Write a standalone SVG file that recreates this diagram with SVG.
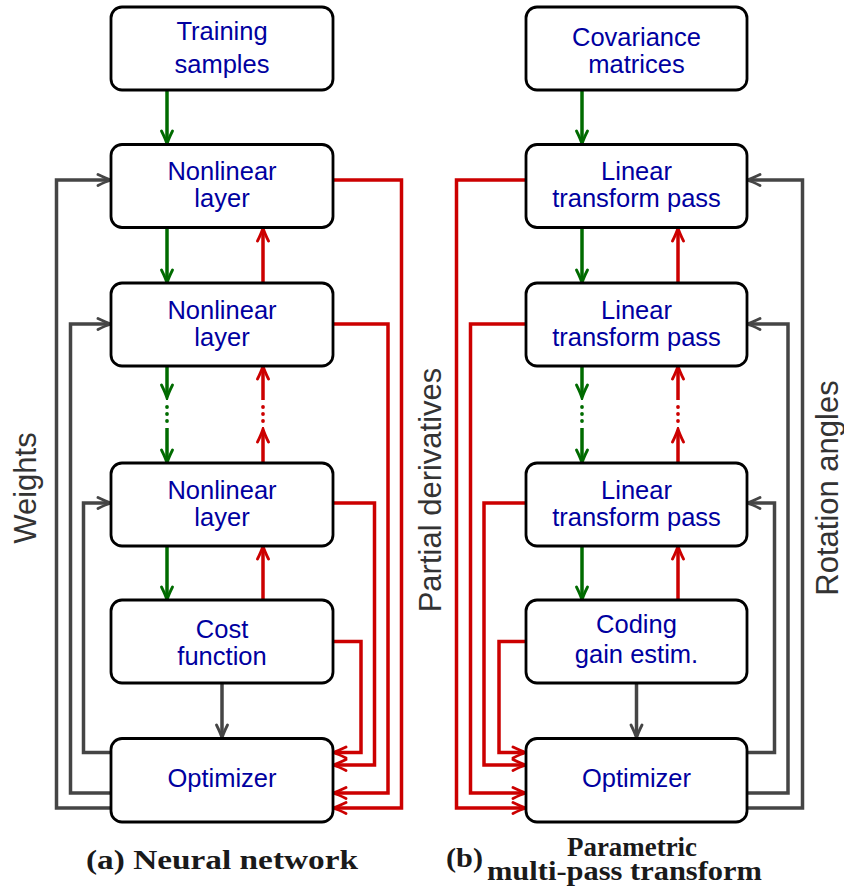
<svg xmlns="http://www.w3.org/2000/svg" width="844" height="892" viewBox="0 0 844 892">
<style>
.box{fill:#fff;stroke:#000;stroke-width:2.8}
.t{font-family:"Liberation Sans",Arial,sans-serif;font-size:25.5px;fill:#0000a0;text-anchor:middle}
.side{font-family:"Liberation Sans",Arial,sans-serif;font-size:31px;fill:#333;text-anchor:middle}
.cap{font-family:"Liberation Serif","Times New Roman",serif;font-weight:bold;font-size:26.5px;fill:#1a1a1a}
.g{fill:none;stroke:#006b00;stroke-width:3.5}
.r{fill:none;stroke:#cc0000;stroke-width:3.5}
.k{fill:none;stroke:#454545;stroke-width:3.5}
.gd{fill:#006b00}
.rd{fill:#cc0000}
</style>
<defs>
<marker id="mg" viewBox="-15 -8 17 16" refX="-2" refY="0" markerWidth="17" markerHeight="16" markerUnits="userSpaceOnUse" orient="auto"><path d="M-13,-5.5 Q-5,-1.5 0,0 Q-5,1.5 -13,5.5" fill="none" stroke="#006b00" stroke-width="2.8" stroke-linecap="round"/></marker>
<marker id="mr" viewBox="-15 -8 17 16" refX="-2" refY="0" markerWidth="17" markerHeight="16" markerUnits="userSpaceOnUse" orient="auto"><path d="M-13,-5.5 Q-5,-1.5 0,0 Q-5,1.5 -13,5.5" fill="none" stroke="#cc0000" stroke-width="2.8" stroke-linecap="round"/></marker>
<marker id="mk" viewBox="-15 -8 17 16" refX="-2" refY="0" markerWidth="17" markerHeight="16" markerUnits="userSpaceOnUse" orient="auto"><path d="M-13,-5.5 Q-5,-1.5 0,0 Q-5,1.5 -13,5.5" fill="none" stroke="#454545" stroke-width="2.8" stroke-linecap="round"/></marker>
</defs>

<g id="connectors">
<path class="g" d="M167,90 V142" marker-end="url(#mg)"/>
<path class="g" d="M167,228 V281" marker-end="url(#mg)"/>
<path class="g" d="M167,366 V396" marker-end="url(#mg)"/>
<path class="g" d="M167,428 V461" marker-end="url(#mg)"/>
<path class="g" d="M167,546 V598" marker-end="url(#mg)"/>
<circle class="gd" cx="167" cy="407" r="1.9"/><circle class="gd" cx="167" cy="414" r="1.9"/><circle class="gd" cx="167" cy="421" r="1.9"/>
<path class="r" d="M263,283 V230" marker-end="url(#mr)"/>
<path class="r" d="M263,463 V431" marker-end="url(#mr)"/>
<path class="r" d="M263,400 V368" marker-end="url(#mr)"/>
<path class="r" d="M263,600 V548" marker-end="url(#mr)"/>
<circle class="rd" cx="263" cy="407" r="1.9"/><circle class="rd" cx="263" cy="414" r="1.9"/><circle class="rd" cx="263" cy="421" r="1.9"/>
<path class="k" d="M222,683 V736" marker-end="url(#mk)"/>
<path class="r" d="M333,180 H401.5 V808 H335" marker-end="url(#mr)"/>
<path class="r" d="M333,324 H388 V793 H335" marker-end="url(#mr)"/>
<path class="r" d="M333,503 H374.5 V765 H335" marker-end="url(#mr)"/>
<path class="r" d="M333,641.5 H361 V752.5 H335" marker-end="url(#mr)"/>
<path class="k" d="M111,808 H56.5 V180 H109" marker-end="url(#mk)"/>
<path class="k" d="M111,793 H70.5 V324 H109" marker-end="url(#mk)"/>
<path class="k" d="M111,752.5 H83.5 V503 H109" marker-end="url(#mk)"/>

<path class="g" d="M582,90 V142" marker-end="url(#mg)"/>
<path class="g" d="M582,228 V281" marker-end="url(#mg)"/>
<path class="g" d="M582,366 V396" marker-end="url(#mg)"/>
<path class="g" d="M582,428 V461" marker-end="url(#mg)"/>
<path class="g" d="M582,546 V598" marker-end="url(#mg)"/>
<circle class="gd" cx="582" cy="407" r="1.9"/><circle class="gd" cx="582" cy="414" r="1.9"/><circle class="gd" cx="582" cy="421" r="1.9"/>
<path class="r" d="M678,283 V230" marker-end="url(#mr)"/>
<path class="r" d="M678,463 V431" marker-end="url(#mr)"/>
<path class="r" d="M678,400 V368" marker-end="url(#mr)"/>
<path class="r" d="M678,600 V548" marker-end="url(#mr)"/>
<circle class="rd" cx="678" cy="407" r="1.9"/><circle class="rd" cx="678" cy="414" r="1.9"/><circle class="rd" cx="678" cy="421" r="1.9"/>
<path class="k" d="M636.5,683 V736" marker-end="url(#mk)"/>
<path class="r" d="M526,180 H456.5 V808 H524" marker-end="url(#mr)"/>
<path class="r" d="M526,324 H470.5 V793 H524" marker-end="url(#mr)"/>
<path class="r" d="M526,503 H484 V765 H524" marker-end="url(#mr)"/>
<path class="r" d="M526,641.5 H499 V752.5 H524" marker-end="url(#mr)"/>
<path class="k" d="M747,808 H802.5 V180 H749" marker-end="url(#mk)"/>
<path class="k" d="M747,793 H788 V324 H749" marker-end="url(#mk)"/>
<path class="k" d="M747,752.5 H774.5 V503 H749" marker-end="url(#mk)"/>
</g>

<g id="training-samples"><rect class="box" x="111" y="7" width="222" height="83" rx="11"/><text class="t" x="222" y="39.5">Training</text><text class="t" x="222" y="72.5">samples</text></g>
<g id="nonlinear-1"><rect class="box" x="111" y="144.5" width="222" height="83" rx="11"/><text class="t" x="222" y="179.5">Nonlinear</text><text class="t" x="222" y="206.7">layer</text></g>
<g id="nonlinear-2"><rect class="box" x="111" y="283" width="222" height="83" rx="11"/><text class="t" x="222" y="318.5">Nonlinear</text><text class="t" x="222" y="345.7">layer</text></g>
<g id="nonlinear-3"><rect class="box" x="111" y="463" width="222" height="83" rx="11"/><text class="t" x="222" y="498.5">Nonlinear</text><text class="t" x="222" y="525.7">layer</text></g>
<g id="cost-function"><rect class="box" x="111" y="600" width="222" height="83" rx="11"/><text class="t" x="222" y="638.3">Cost</text><text class="t" x="222" y="665">function</text></g>
<g id="optimizer-a"><rect class="box" x="111" y="738.5" width="222" height="83.5" rx="11"/><text class="t" x="222" y="787">Optimizer</text></g>

<g id="covariance"><rect class="box" x="526" y="7" width="221" height="83" rx="11"/><text class="t" x="636.5" y="46">Covariance</text><text class="t" x="636.5" y="72.7">matrices</text></g>
<g id="linear-1"><rect class="box" x="526" y="144.5" width="221" height="83" rx="11"/><text class="t" x="636.5" y="179.5">Linear</text><text class="t" x="636.5" y="206.7">transform pass</text></g>
<g id="linear-2"><rect class="box" x="526" y="283" width="221" height="83" rx="11"/><text class="t" x="636.5" y="318.5">Linear</text><text class="t" x="636.5" y="345.7">transform pass</text></g>
<g id="linear-3"><rect class="box" x="526" y="463" width="221" height="83" rx="11"/><text class="t" x="636.5" y="498.5">Linear</text><text class="t" x="636.5" y="525.7">transform pass</text></g>
<g id="coding-gain"><rect class="box" x="526" y="600" width="221" height="83" rx="11"/><text class="t" x="636.5" y="633.3">Coding</text><text class="t" x="636.5" y="663.3">gain estim.</text></g>
<g id="optimizer-b"><rect class="box" x="526" y="738.5" width="221" height="83.5" rx="11"/><text class="t" x="636.5" y="787">Optimizer</text></g>

<g id="labels">
<text class="side" transform="translate(36,488) rotate(-90)">Weights</text>
<text class="side" transform="translate(441,490) rotate(-90)">Partial derivatives</text>
<text class="side" transform="translate(838,488) rotate(-90)">Rotation angles</text>
<text class="cap" x="86" y="869" textLength="272" lengthAdjust="spacingAndGlyphs">(a) Neural network</text>
<text class="cap" x="446" y="867" textLength="37" lengthAdjust="spacingAndGlyphs">(b)</text>
<text class="cap" x="567" y="856" textLength="130" lengthAdjust="spacingAndGlyphs">Parametric</text>
<text class="cap" x="487" y="880" textLength="275" lengthAdjust="spacingAndGlyphs">multi-pass transform</text>
</g>
</svg>
